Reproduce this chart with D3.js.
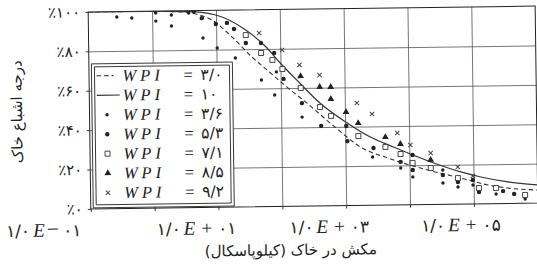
<!DOCTYPE html>
<html>
<head>
<meta charset="utf-8">
<script src="https://cdn.jsdelivr.net/npm/d3@7"></script>
<style>
  body { margin: 0; background: #fff; }
  svg { display: block; }
</style>
</head>
<body>
<div id="chart"></div>
<script>
/* CONSTANTS */
const width = 537,
  height = 268,
  margin = { top: 9, bottom: 62, left: 89.5, right: 0.5 },
  ink = "#222";

/* DATA (suction in kPa, saturation in %) */
const xTickValues = [1e-1, 1e1, 1e3, 1e5];
const xTickMantissa = ["۱/۰", "۱/۰", "۱/۰", "۱/۰"];
const xTickSign = ["−", "+", "+", "+"];
const xTickExponent = ["۰۱", "۰۱", "۰۳", "۰۵"];
const yTickValues = [0, 20, 40, 60, 80, 100];
const wpiValues = [3.0, 10, 3.6, 5.3, 7.1, 8.5, 9.2];

// fitted curves
const curveWpi30 = [[0.1, 100], [1.8, 99.8], [4.8, 98.2], [8.6, 95.1], [17.7, 86.3], [36, 76.0],
  [67, 68.3], [124, 60.6], [255, 52.3], [454, 45.1], [752, 38.9], [1720, 29.6], [4560, 23.9],
  [19300, 17.5], [63400, 13.2], [168000, 9.5], [345000, 7.8], [1e6, 6.6]];
const curveWpi10 = [[0.1, 100], [0.9, 99.9], [3.75, 99.5], [9.9, 97.6], [29, 89.8], [60, 81.0],
  [96, 73.3], [198, 62.5], [407, 52.2], [1077, 41.9], [2470, 34.6], [5650, 29.4], [23900, 21.0],
  [63400, 16.3], [130000, 13.6], [345000, 10.9], [1e6, 9.2]];

// measured points
const pointsWpi36 = [[0.28, 97.2], [0.48, 96.6], [1.14, 99.0], [1.14, 94.9], [2.0, 97.9], [2.0, 92.3],
  [1.1, 100], [2.1, 100], [3.75, 98.8], [6.2, 86.0], [10.3, 80.8], [19.7, 75.6], [50, 64.3],
  [86, 68.3], [80, 56.6], [213, 45.2], [2655, 24.5], [7280, 18.7], [11200, 14.1], [33100, 17.4],
  [33100, 10.8], [56900, 8.7], [97700, 9.6], [224000, 4.9], [637000, 2.1]];
const pointsWpi53 = [[4.5, 99.5], [6.0, 96.1], [9.9, 93.0], [14.8, 93.5], [19, 90.4], [29, 83.2],
  [50, 83.1], [80, 77.9], [111, 64.7], [213, 52.3], [422, 40.6], [1040, 40.4], [1077, 32.7],
  [2750, 29.0], [7280, 21.8], [11200, 25.2], [11200, 17.6], [33100, 14.9], [56900, 11.2],
  [97700, 12.1], [121000, 6.0], [288000, 6.3], [429000, 4.8]];
const pointsWpi71 = [[29, 87.2], [50, 78.0], [75, 74.4], [107, 69.7], [205, 60.0], [407, 50.2],
  [605, 45.6], [1603, 35.2], [4240, 29.5], [7280, 25.8], [11200, 21.2], [21500, 18.5],
  [56900, 13.2], [121000, 8.0], [224000, 7.9], [637000, 4.2]];
const pointsWpi85 = [[205, 66.0], [407, 60.4], [605, 60.3], [605, 54.2], [1040, 47.5], [1603, 41.8],
  [4240, 34.5], [7280, 30.9], [21500, 22.6]];
const pointsWpi92 = [[47, 88.2], [107, 79.4], [198, 71.7], [407, 66.4], [1545, 52.0], [2655, 46.3],
  [6530, 36.5], [10400, 30.3], [21500, 26.1], [56900, 18.8], [97700, 14.2]];

/* SCALES */
const plotW = width - margin.left - margin.right,
  plotH = height - margin.top - margin.bottom;

const xScale = d3.scaleLog()
  .domain([1e-1, 1e6])
  .range([margin.left, margin.left + plotW]);

const yScale = d3.scaleLinear()
  .domain([0, 100])
  .range([margin.top + plotH, margin.top]);

const fa = s => String(s).replace(/\d/g, d => "۰۱۲۳۴۵۶۷۸۹"[d]);
const wpiText = v => v === 10 ? fa(10) : fa(v.toFixed(1)).replace(".", "/");

/* SVG */
const svg = d3.select("#chart")
  .append("svg")
  .attr("width", width)
  .attr("height", height);

svg.append("rect").attr("width", width).attr("height", height).attr("fill", "#fff");

// the scanned figure sits slightly tilted
const g = svg.append("g").attr("transform", "rotate(-0.75, 312, 110)");

const decades = d3.range(-1, 7).map(e => Math.pow(10, e));

// grid
g.append("g")
  .attr("transform", `translate(0, ${margin.top + plotH})`)
  .call(d3.axisBottom(xScale).tickValues(decades.slice(1, -1)).tickSize(-plotH).tickFormat(""))
  .call(a => a.select(".domain").remove())
  .call(a => a.selectAll("line").attr("stroke", "#555").attr("stroke-width", 0.8));

g.append("g")
  .attr("transform", `translate(${margin.left}, 0)`)
  .call(d3.axisLeft(yScale).tickValues([20, 40, 60, 80]).tickSize(-plotW).tickFormat(""))
  .call(a => a.select(".domain").remove())
  .call(a => a.selectAll("line").attr("stroke", "#555").attr("stroke-width", 0.8));

// axes with ticks
g.append("g")
  .attr("transform", `translate(0, ${margin.top + plotH})`)
  .call(d3.axisBottom(xScale).tickValues(decades).tickSize(3).tickFormat(""))
  .call(a => a.select(".domain").remove())
  .call(a => a.selectAll("line").attr("stroke", ink).attr("stroke-width", 0.9));

g.append("g")
  .attr("transform", `translate(${margin.left}, 0)`)
  .call(d3.axisLeft(yScale).tickValues(yTickValues).tickSize(3).tickPadding(5)
    .tickFormat(d => "٪" + fa(d)))
  .call(a => a.select(".domain").remove())
  .call(a => a.selectAll("line").attr("stroke", ink).attr("stroke-width", 0.9))
  .call(a => a.selectAll("text")
    .attr("font-family", "DejaVu Sans")
    .attr("font-size", 15)
    .attr("fill", ink));

// frame
g.append("rect")
  .attr("x", margin.left).attr("y", margin.top)
  .attr("width", plotW).attr("height", plotH)
  .attr("fill", "none").attr("stroke", ink).attr("stroke-width", 1);

// x tick labels (the typeset labels sit left of their ticks)
const labelShift = [-85, -62, -57, -53];
g.append("g").selectAll("text")
  .data(xTickValues)
  .join("text")
  .attr("x", (d, i) => xScale(d) + labelShift[i])
  .attr("y", margin.top + plotH + 27)
  .attr("font-size", 17)
  .attr("fill", ink)
  .each(function (d, i) {
    const t = d3.select(this);
    t.append("tspan").attr("font-family", "DejaVu Sans").text(xTickMantissa[i]);
    t.append("tspan").attr("dx", 3).attr("font-family", "Liberation Serif").attr("font-style", "italic")
      .attr("font-size", 19).text("E");
    t.append("tspan").attr("dx", i === 0 ? 2 : 6).attr("font-family", "Liberation Serif")
      .attr("font-size", i === 0 ? 22 : 19).text(xTickSign[i]);
    t.append("tspan").attr("dx", i === 0 ? 4 : 6).attr("font-family", "DejaVu Sans").text(xTickExponent[i]);
  });

// axis titles
g.append("text")
  .attr("x", margin.left + plotW / 2 - 24)
  .attr("y", 255)
  .attr("text-anchor", "middle")
  .attr("font-family", "DejaVu Sans")
  .attr("font-size", 15)
  .attr("fill", ink)
  .text("مکش در خاک (کیلوپاسکال)");

g.append("text")
  .attr("transform", "translate(22, 108) rotate(-90)")
  .attr("text-anchor", "middle")
  .attr("font-family", "DejaVu Sans")
  .attr("font-size", 15)
  .attr("fill", ink)
  .text("درجه اشباع خاک");

/* CURVES */
const line = d3.line()
  .x(d => xScale(d[0]))
  .y(d => yScale(d[1]))
  .curve(d3.curveMonotoneX);

g.append("clipPath").attr("id", "plotclip")
  .append("rect")
  .attr("x", margin.left).attr("y", margin.top)
  .attr("width", plotW).attr("height", plotH);

const plot = g.append("g").attr("clip-path", "url(#plotclip)");

plot.append("path").datum(curveWpi30)
  .attr("d", line).attr("fill", "none")
  .attr("stroke", "#333").attr("stroke-width", 1.1).attr("stroke-dasharray", "4.5,3");

plot.append("path").datum(curveWpi10)
  .attr("d", line).attr("fill", "none")
  .attr("stroke", "#333").attr("stroke-width", 1.2);

/* MARKERS */
const markers = [
  { data: pointsWpi36, draw: s => s.append("circle").attr("r", 1.7).attr("fill", ink) },
  { data: pointsWpi53, draw: s => s.append("circle").attr("r", 2.2).attr("fill", ink) },
  { data: pointsWpi71, draw: s => s.append("rect").attr("x", -2.5).attr("y", -2.5).attr("width", 5).attr("height", 5)
      .attr("fill", "#fff").attr("stroke", "#333").attr("stroke-width", 0.9) },
  { data: pointsWpi85, draw: s => s.append("path").attr("d", d3.symbol(d3.symbolTriangle, 20)).attr("fill", ink) },
  { data: pointsWpi92, draw: s => s.append("path").attr("d", d3.symbol(d3.symbolTimes, 14))
      .attr("fill", "none").attr("stroke", "#444").attr("stroke-width", 1) }
];

markers.forEach(m => {
  plot.append("g").selectAll("g")
    .data(m.data)
    .join("g")
    .attr("transform", d => `translate(${xScale(d[0])}, ${yScale(d[1])})`)
    .call(m.draw);
});

/* LEGEND */
const legend = g.append("g");
legend.append("rect").attr("x", 92).attr("y", 61).attr("width", 141).attr("height", 144)
  .attr("fill", "#fff").attr("stroke", ink).attr("stroke-width", 0.9);
legend.append("rect").attr("x", 95).attr("y", 64).attr("width", 135).attr("height", 138)
  .attr("fill", "none").attr("stroke", ink).attr("stroke-width", 0.9);

const rowY = i => 73 + i * 19.5;

legend.selectAll("g.row")
  .data(wpiValues)
  .join("g")
  .attr("class", "row")
  .attr("transform", (d, i) => `translate(0, ${rowY(i)})`)
  .each(function (d, i) {
    const r = d3.select(this);
    if (i === 0) {
      r.append("line").attr("x1", 97).attr("x2", 114).attr("stroke", "#333")
        .attr("stroke-width", 1.1).attr("stroke-dasharray", "4.5,3");
    } else if (i === 1) {
      r.append("line").attr("x1", 97).attr("x2", 120).attr("stroke", "#333").attr("stroke-width", 1.2);
    } else {
      markers[i - 2].draw(r.append("g").attr("transform", "translate(107, 0)"));
    }
    r.append("text").attr("x", 123).attr("y", 5.5).attr("fill", ink)
      .attr("font-family", "Liberation Serif").attr("font-style", "italic")
      .attr("font-size", 16.5).attr("letter-spacing", 4).text("WPI");
    r.append("text").attr("x", 184).attr("y", 5.5).attr("fill", ink)
      .attr("font-family", "Liberation Serif").attr("font-size", 16.5).text("=");
    r.append("text").attr("x", 201).attr("y", 5.5).attr("fill", ink)
      .attr("font-family", "DejaVu Sans").attr("font-size", 15.5)
      .attr("letter-spacing", 1.5).text(wpiText(d));
  });
</script>
</body>
</html>
